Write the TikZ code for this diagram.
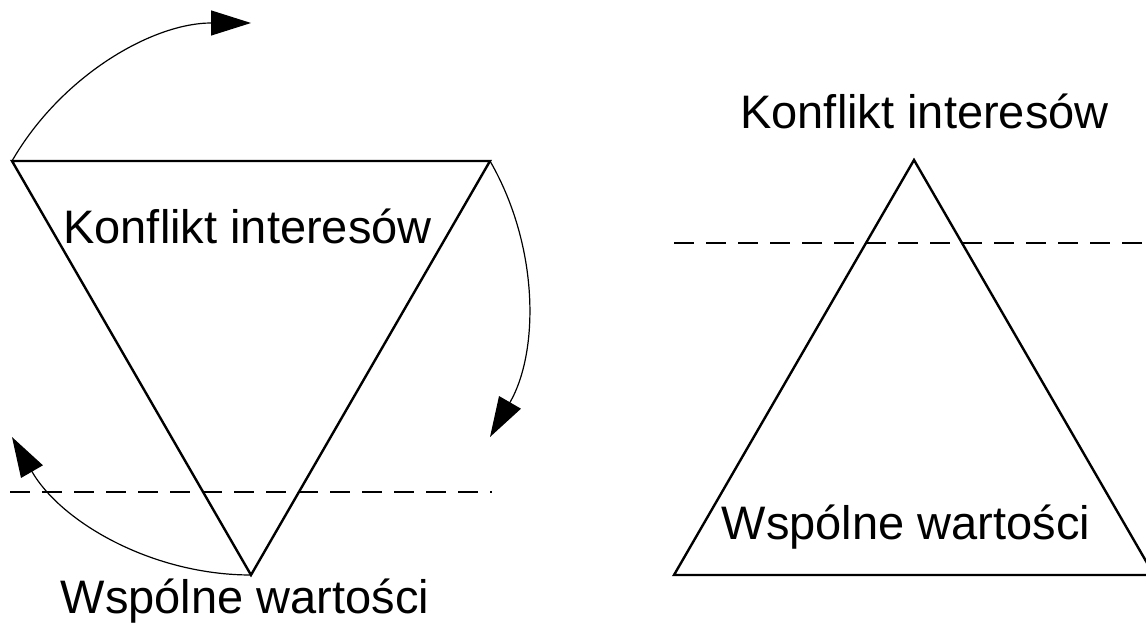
\documentclass[tikz,border=0pt]{standalone}
\usepackage{fontspec}
\setmainfont{Liberation Sans}
\usepackage{tikz}
\usetikzlibrary{arrows.meta}
\usetikzlibrary{calc}
\tikzstyle{side} = [draw,line width=2.4pt,line join=miter]
\tikzstyle{turn} = [draw,line width=1.2pt,-{Triangle[length=40pt,width=25pt]}]
\tikzstyle{level} = [draw,line width=2.4pt,dash pattern=on 20pt off 12pt]
\tikzstyle{caption} = [font=\fontsize{47}{56}\selectfont,inner sep=0pt,anchor=base]

\begin{document}
\begin{tikzpicture}[x=1pt,y=1pt]
\useasboundingbox (0,0) rectangle (1146,624);

%turned triangle
    \coordinate (TL) at (12,463);
    \coordinate (TR) at (490,463);
    \coordinate (B) at (251,49);
  \path[side] (TL) -- (TR) -- (B) -- cycle;

    % rotation arrows round the centre
   \foreach \name/\from in {TL/150, TR/30, B/270}
          \path[turn] (\name) arc[start angle=\from, end angle=\from-60, radius=276];

    \coordinate (L1) at (10,132);
    \coordinate (L2) at (492,132);
    \path[level] (L1) -- (L2);

    \node[caption] (KL) at (247.5,380.5) {Konflikt interesów};
    \node[caption] (WL) at (245,11) {Wspólne wartości};

    % upright triangle
    \def\dx{663};
    \coordinate (A) at (251+\dx,464);
    \coordinate (BL) at (11+\dx,49);
    \coordinate (BR) at (491+\dx,49);
  \path[side] (A) -- (BR) -- (BL) -- cycle;

    \coordinate (R1) at (674,381);
    \coordinate (R2) at (1150,381);
    \path[level] (R1) -- (R2);

    \node[caption] (KR) at (924.5,495) {Konflikt interesów};
    \node[caption] (WR) at (906,84) {Wspólne wartości};

   \end{tikzpicture}
\end{document}
